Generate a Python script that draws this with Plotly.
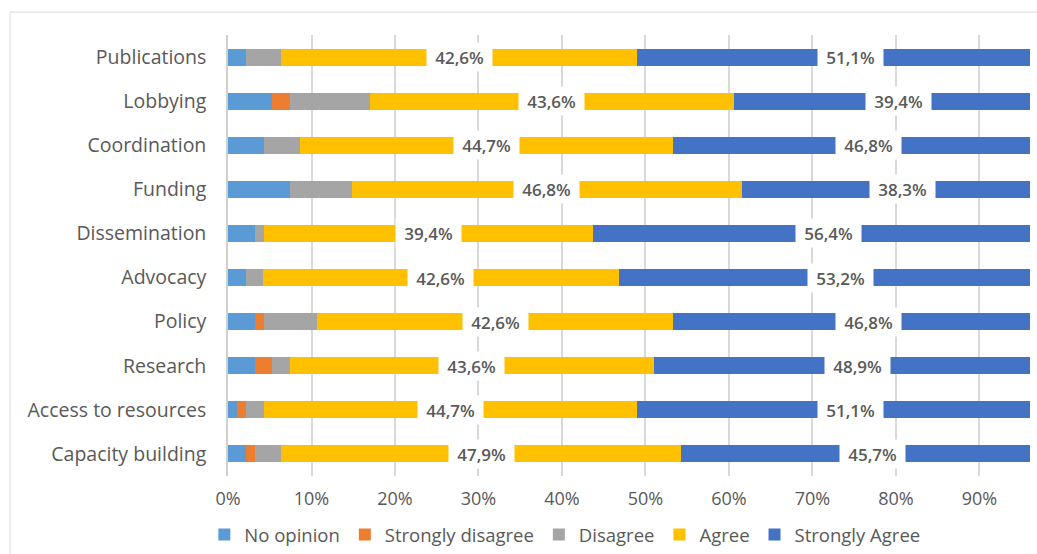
import plotly.graph_objects as go

# Survey response shares (%) per area, listed top to bottom
categories = ["Publications", "Lobbying", "Coordination", "Funding", "Dissemination",
              "Advocacy", "Policy", "Research", "Access to resources", "Capacity building"]

no_opinion        = [2.1, 5.3, 4.3, 7.4, 3.2, 2.1, 3.2, 3.2, 1.1, 2.1]
strongly_disagree = [0.0, 2.1, 0.0, 0.0, 0.0, 0.0, 1.1, 2.1, 1.1, 1.1]
disagree          = [4.3, 9.6, 4.3, 7.4, 1.1, 2.1, 6.4, 2.1, 2.1, 3.2]
agree             = [42.6, 43.6, 44.7, 46.8, 39.4, 42.6, 42.6, 43.6, 44.7, 47.9]
strongly_agree    = [51.1, 39.4, 46.8, 38.3, 56.4, 53.2, 46.8, 48.9, 51.1, 45.7]

series = [
    ("No opinion", no_opinion, "#5B9BD5"),
    ("Strongly disagree", strongly_disagree, "#ED7D31"),
    ("Disagree", disagree, "#A5A5A5"),
    ("Agree", agree, "#FFC000"),
    ("Strongly Agree", strongly_agree, "#4472C4"),
]
labelled = {"Agree", "Strongly Agree"}

tick_vals = [0, 10, 20, 30, 40, 50, 60, 70, 80, 90]
tick_text = [f"{v}%" for v in tick_vals]

FONT = "Open Sans"
GREY = "#595959"

fig = go.Figure()
offsets = [0.0] * len(categories)
annotations = []
for name, vals, color in series:
    fig.add_trace(go.Bar(
        y=categories, x=vals, name=name, orientation="h",
        marker=dict(color=color, line=dict(width=0)),
        hoverinfo="x+y+name",
    ))
    if name in labelled:
        for i, (cat, v) in enumerate(zip(categories, vals)):
            annotations.append(dict(
                x=offsets[i] + v / 2, y=cat, xref="x", yref="y",
                text=f"{v:.1f}".replace(".", ",") + "%",
                showarrow=False, bgcolor="white", borderpad=2.5, width=60,
                font=dict(family=FONT, size=17, color=GREY, weight=600),
            ))
    offsets = [o + v for o, v in zip(offsets, vals)]

fig.update_layout(
    width=1037, height=554,
    margin=dict(l=228, r=7, t=35, b=78, autoexpand=False),
    paper_bgcolor="white", plot_bgcolor="white",
    barmode="stack", bargap=0.615,
    font=dict(family=FONT, color=GREY),
    annotations=annotations,
    legend=dict(
        orientation="h", traceorder="normal",
        x=0.42, xanchor="center", y=-0.1769, yanchor="bottom",
        font=dict(family=FONT, size=18.5, color=GREY),
        itemwidth=30,
    ),
    xaxis=dict(
        range=[0, 96.05], tickvals=tick_vals, ticktext=tick_text,
        showgrid=True, gridcolor="#D9D9D9", gridwidth=1.5,
        zeroline=False, showline=False, ticks="",
        tickfont=dict(family=FONT, size=18, color=GREY),
        ticklabelstandoff=10, fixedrange=True,
    ),
    yaxis=dict(
        autorange="reversed", showgrid=False, zeroline=False,
        showline=True, linecolor="#D0D0D0", linewidth=1.5, ticks="",
        tickfont=dict(family=FONT, size=19.5, color=GREY),
        ticklabelstandoff=16, fixedrange=True,
    ),
    shapes=[
        dict(type="line", xref="paper", yref="paper",
             x0=-0.2718, x1=-0.2718, y0=1.052, y1=-0.25,
             line=dict(color="#D9D9D9", width=1)),
        dict(type="line", xref="paper", yref="paper",
             x0=-0.2718, x1=1.02, y0=1.052, y1=1.052,
             line=dict(color="#D9D9D9", width=1)),
    ],
)

fig.write_html("out.html")
